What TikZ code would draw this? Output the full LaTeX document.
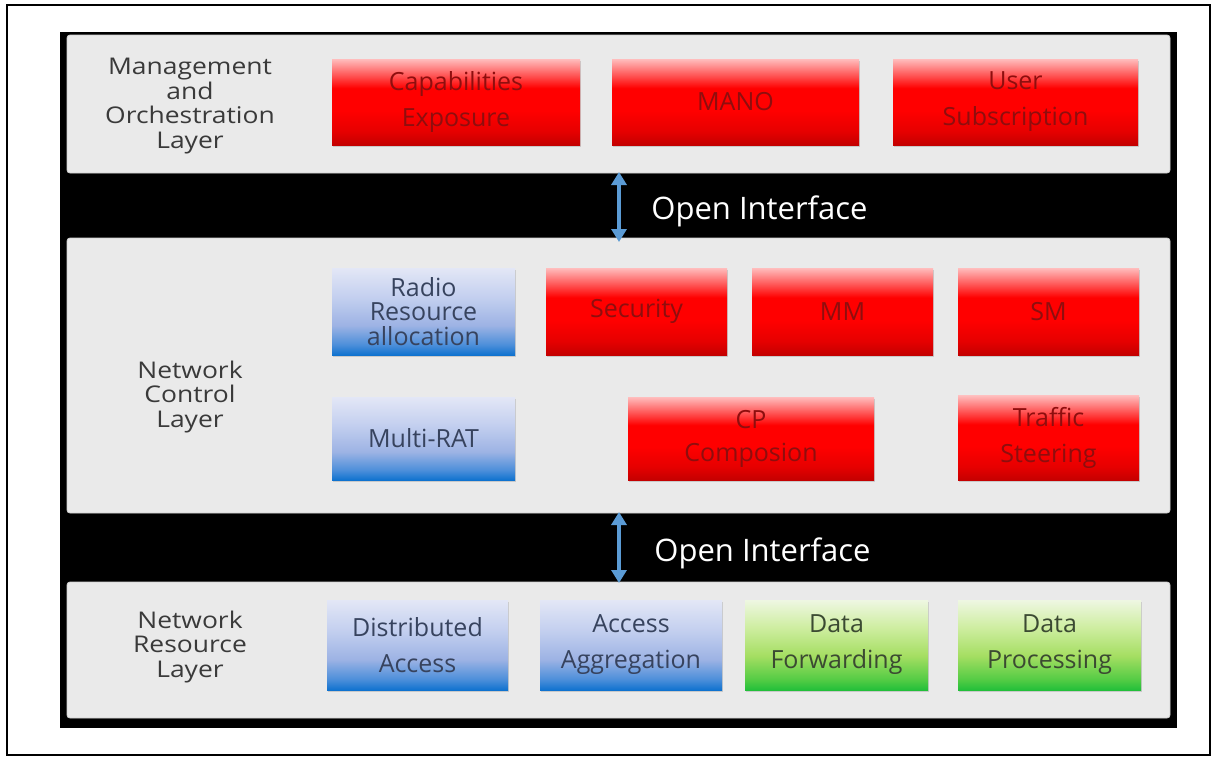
\documentclass[tikz,border=0pt]{standalone}
\usepackage{fontspec}
\setmainfont{Open Sans}
\newfontfamily\layerfont[FakeStretch=1.15]{Open Sans}
\usetikzlibrary{arrows.meta,shadows}

% palette
\definecolor{panelgrey}{HTML}{EAEAEA}
\definecolor{arrowblue}{HTML}{5B9BD5}
\definecolor{labelgrey}{HTML}{3A3A3A}
\definecolor{rTop}{HTML}{FFBDBD}
\definecolor{rUp}{HTML}{FF5A5A}
\definecolor{rMid}{HTML}{FF0000}
\definecolor{rLow}{HTML}{E60000}
\definecolor{rBot}{HTML}{C40000}
\definecolor{rText}{HTML}{8E0E0E}
\definecolor{bTop}{HTML}{E3E7F6}
\definecolor{bUp}{HTML}{C3CFEF}
\definecolor{bMid}{HTML}{9DB3E4}
\definecolor{bLow}{HTML}{4D8FDA}
\definecolor{bBot}{HTML}{0F72CF}
\definecolor{bText}{HTML}{37435E}
\definecolor{gTop}{HTML}{EEF7E2}
\definecolor{gUp}{HTML}{CFEEA2}
\definecolor{gMid}{HTML}{A5DE62}
\definecolor{gLow}{HTML}{55CC45}
\definecolor{gBot}{HTML}{22BF3A}
\definecolor{gText}{HTML}{3B4A32}

% vertical fills for the function blocks (bottom -> top)
\pgfdeclareverticalshading{redfill}{100bp}{color(0bp)=(rBot); color(25bp)=(rBot); color(33bp)=(rLow); color(45bp)=(rMid); color(58bp)=(rMid); color(66bp)=(rUp); color(75bp)=(rTop); color(100bp)=(rTop)}
\pgfdeclareverticalshading{bluefill}{100bp}{color(0bp)=(bBot); color(25bp)=(bBot); color(31bp)=(bLow); color(42bp)=(bMid); color(58bp)=(bUp); color(75bp)=(bTop); color(100bp)=(bTop)}
\pgfdeclareverticalshading{greenfill}{100bp}{color(0bp)=(gBot); color(25bp)=(gBot); color(31bp)=(gLow); color(44bp)=(gMid); color(60bp)=(gUp); color(75bp)=(gTop); color(100bp)=(gTop)}

\tikzset{
  panel/.style={rectangle, fill=panelgrey, draw=black!18, line width=0.4pt,
    rounded corners=1.5pt, inner sep=0pt},
  fnbox/.style={rectangle, inner sep=0pt, align=center,
    font=\fontsize{12.5}{18}\selectfont,
    drop shadow={shadow xshift=0.4pt, shadow yshift=-0.8pt, opacity=0.3}},
  redbox/.style={fnbox, shade, shading=redfill, text=rText},
  bluebox/.style={fnbox, shade, shading=bluefill, text=bText},
  greenbox/.style={fnbox, shade, shading=greenfill, text=gText},
  layerlabel/.style={align=center, text=labelgrey, inner sep=0pt,
    font=\layerfont\fontsize{11.5}{12.3}\selectfont},
  iface/.style={line width=2pt, draw=arrowblue,
    {Triangle[width=7.5pt,length=6.5pt]}-{Triangle[width=7.5pt,length=6.5pt]}},
  ifacelabel/.style={anchor=base west, text=white, inner sep=0pt,
    font=\fontsize{15.5}{18}\selectfont},
}

\begin{document}
\begin{tikzpicture}[x=0.5pt, y=-0.5pt]
\useasboundingbox (0,0) rectangle (1211,756);

% outer frame
\draw[line width=1pt] (7,5) rectangle (1209.5,754.5);

% black backdrop
\node[rectangle, fill=black, inner sep=0pt, minimum width=558.5pt, minimum height=348pt]
  (backdrop) at (618.5,380) {};

% the three layers
\node[panel, minimum width=551.5pt, minimum height=69pt] (mgmt) at (618.5,104) {};
\node[panel, minimum width=551.5pt, minimum height=137.5pt] (ctrl) at (618.5,375.5) {};
\node[panel, minimum width=551.5pt, minimum height=68pt] (res) at (618.5,650) {};

% layer names
\node[layerlabel] (mgmtname) at (190,106) {Management\\and\\Orchestration\\Layer};
\node[layerlabel] (ctrlname) at (190,397) {Network\\Control\\Layer};
\node[layerlabel] (resname) at (190,647) {Network\\Resource\\Layer};

% management and orchestration functions
\node[redbox, minimum width=124pt, minimum height=43pt] (capexp) at (456,102) {Capabilities\\Exposure};
\node[redbox, minimum width=123.5pt, minimum height=43pt] (mano) at (735.5,102) {MANO};
\node[redbox, minimum width=122.5pt, minimum height=43pt] (usersub) at (1015.5,102) {User\\Subscription};

% network control functions
\node[bluebox, minimum width=91.5pt, minimum height=43.5pt, font=\fontsize{12.5}{12.4}\selectfont]
  (rra) at (423.5,311.5) {Radio\\Resource\\allocation};
\node[redbox, minimum width=90.5pt, minimum height=43.5pt] (sec) at (636.5,311.5) {Security};
\node[redbox, minimum width=90.5pt, minimum height=43.5pt] (mm) at (842.5,311.5) {MM};
\node[redbox, minimum width=90.5pt, minimum height=43.5pt] (sm) at (1048.5,311.5) {SM};
\node[bluebox, minimum width=91.5pt, minimum height=41.5pt] (mrat) at (423.5,438.5) {Multi-RAT};
\node[redbox, minimum width=123pt, minimum height=41.5pt, font=\fontsize{12.5}{16.5}\selectfont]
  (cpc) at (751,438.5) {CP\\Composion};
\node[redbox, minimum width=90.5pt, minimum height=42.5pt] (steer) at (1048.5,438) {Traffic\\Steering};

% network resource functions
\node[bluebox, minimum width=90.5pt, minimum height=45pt] (dacc) at (417.5,645) {Distributed\\Access};
\node[bluebox, minimum width=91pt, minimum height=45pt] (aagg) at (631,645) {Access\\Aggregation};
\node[greenbox, minimum width=91.5pt, minimum height=45pt] (dfwd) at (836.5,645) {Data\\Forwarding};
\node[greenbox, minimum width=91.5pt, minimum height=45pt] (dproc) at (1049.5,645) {Data\\Processing};

% open interfaces between the layers
\coordinate (up1) at (619,172);
\coordinate (dn1) at (619,242);
\coordinate (up2) at (619,512);
\coordinate (dn2) at (619,583);
\draw[iface] (up1) -- (dn1);
\draw[iface] (up2) -- (dn2);
\node[ifacelabel] (if1) at (651,219) {Open Interface};
\node[ifacelabel] (if2) at (654,561) {Open Interface};
\end{tikzpicture}
\end{document}
